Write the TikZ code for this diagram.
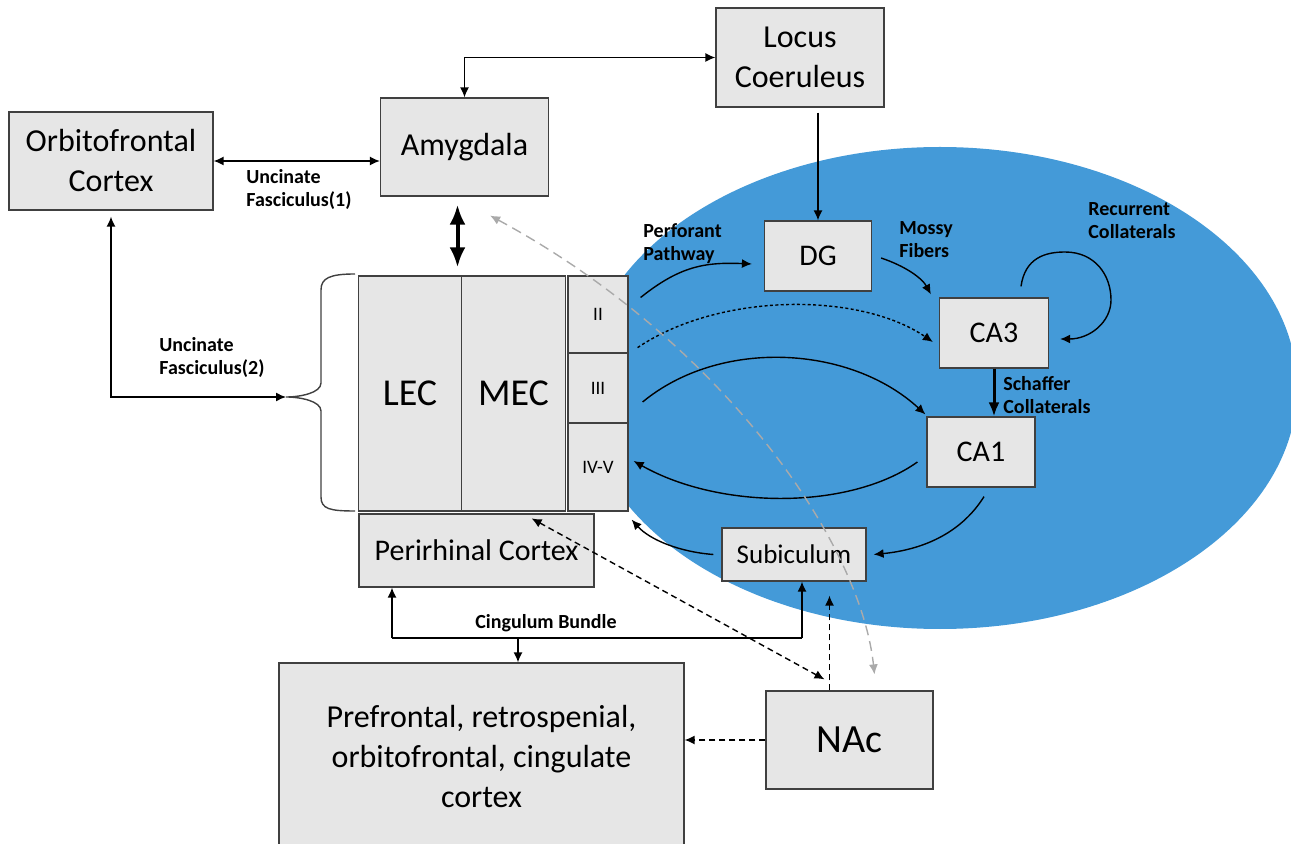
\documentclass[tikz,border=0pt]{standalone}
\usepackage{fontspec}
\setmainfont{Carlito}
\usetikzlibrary{arrows.meta,calc}

\definecolor{hippo_blue}{RGB}{68,154,216}
\definecolor{box_gray}{RGB}{230,230,230}
\definecolor{edge_gray}{RGB}{64,64,64}
\definecolor{path_gray}{RGB}{170,170,170}

\begin{document}
\begin{tikzpicture}[x=0.5pt,y=-0.5pt,
    >={Latex[length=5pt,width=4.5pt]},
    block_box/.style ={rectangle, draw=edge_gray, line width=0.6pt, fill=box_gray,
      align=center, inner sep=2pt, font=\fontsize{16pt}{20pt}\selectfont},
    block_hippo/.style ={block_box, minimum width=54pt, minimum height=35pt,
      font=\fontsize{15pt}{18pt}\selectfont},
    block_ec/.style ={block_box, minimum height=117.5pt,
      font=\fontsize{19pt}{23pt}\selectfont},
    block_layer/.style ={block_box, minimum width=30pt,
      font=\fontsize{9.5pt}{11pt}\selectfont},
    label_bold/.style ={inner sep=0pt, align=left, anchor=west,
      font=\bfseries\fontsize{10pt}{11.5pt}\selectfont},
    line/.style ={draw, line width=0.7pt, ->},
    big_line/.style ={draw, line width=2pt,
      {Latex[length=10pt,width=8pt]}-{Latex[length=10pt,width=8pt]}},
    dash_line/.style ={line, dash pattern=on 3pt off 2pt},
    dot_line/.style ={line, dash pattern=on 1.5pt off 1.2pt},
    gray_line/.style ={line, <->, draw=path_gray, dash pattern=on 5pt off 3pt}]
    \clip (0,0) rectangle (1291,844);
    % hippocampal region
    \fill [hippo_blue] (940,388) ellipse [x radius=178.5pt, y radius=120.5pt];
    % boxes
    \node [block_box, minimum width=102pt, minimum height=49pt] (orbito) at (111,161) {Orbitofrontal\\Cortex};
    \node [block_box, minimum width=84pt, minimum height=49pt] (amyg) at (464.5,147) {Amygdala};
    \node [block_box, minimum width=84pt, minimum height=49.5pt] (locus) at (800,57.5) {Locus\\Coeruleus};
    \node [block_hippo, minimum width=53.5pt] (dg) at (818,256) {DG};
    \node [block_hippo, minimum width=54.5pt] (ca3) at (994,333) {CA3};
    \node [block_hippo] (ca1) at (981,452) {CA1};
    \node [block_box, minimum width=72pt, minimum height=26.5pt,
      font=\fontsize{13.5pt}{16pt}\selectfont] (sub) at (794,554.5) {Subiculum};
    \node [block_ec, minimum width=51.25pt] (lec) at (410,393.5) {LEC};
    \node [block_ec, minimum width=51.75pt] (mec) at (513.5,393.5) {MEC};
    \node [block_layer, minimum height=38.5pt] (layer2) at (598,314.5) {II};
    \node [block_layer, minimum height=35pt] (layer3) at (598,388) {III};
    \node [block_layer, minimum height=44pt] (layer45) at (598,467) {IV-V};
    \node [block_box, minimum width=117.5pt, minimum height=36.5pt,
      font=\fontsize{15pt}{18pt}\selectfont] (peri) at (476.5,550.5) {Perirhinal Cortex};
    \node [block_box, minimum width=202.5pt, minimum height=94pt] (pref) at (481.5,757) {Prefrontal, retrospenial,\\orbitofrontal, cingulate\\cortex};
    \node [block_box, minimum width=83.5pt, minimum height=49pt,
      font=\fontsize{20pt}{24pt}\selectfont] (nac) at (849.5,740) {NAc};
    % pathway labels
    \node [label_bold] (uf_one) at (246,190) {Uncinate\\Fasciculus(1)};
    \node [label_bold] (uf_two) at (159,357.5) {Uncinate\\Fasciculus(2)};
    \node [label_bold] (perforant) at (643,244) {Perforant\\Pathway};
    \node [label_bold] (mossy) at (899,240) {Mossy\\Fibers};
    \node [label_bold] (recurrent) at (1088,221) {Recurrent\\Collaterals};
    \node [label_bold] (schaffer) at (1003,395) {Schaffer\\Collaterals};
    \node [label_bold, anchor=center] (cingulum) at (546,623) {Cingulum Bundle};
    % brace round the entorhinal cortex
    \coordinate (brace_tip) at (286,397);
    \draw [line width=0.7pt, edge_gray] (355,274) .. controls (330,274) and (321,278) .. (321,290)
      -- (321,383) .. controls (321,393) and (300,397) .. (brace_tip)
      .. controls (300,397) and (321,401) .. (321,411)
      -- (321,497) .. controls (321,509) and (330,511) .. (355,511);
    \coordinate (cing_left) at (392,638);
    \coordinate (cing_right) at (802,638);
    \coordinate (cing_mid) at (518,638);
    \coordinate (nac_up) at ($(nac.north)+(-20,0)$);
    % connecting nodes with paths
    \begin{scope}[every path/.style=line]
      \path [<->] (orbito.east) -- (orbito.east -| amyg.west);
      \path [<->] (amyg.north) |- (locus.west);
      \path [shorten <=2.5pt] (locus.south -| dg.north) -- (dg.north);
      \path [big_line, shorten <=4pt, shorten >=4pt] ($(amyg.south)+(-7,0)$) -- ($(amyg.south |- mec.north)+(-7,0)$);
      \path [<->, shorten <=3pt] (orbito.south) |- (brace_tip);
      \path ($(layer2.east)+(12,-17)$) .. controls (680,266) and (705,262) .. ($(dg.west)+(-12,8)$);
      \path ($(dg.east)+(9,2)$) .. controls (905,266) and (922,278) .. ($(ca3.north west)+(-8,-3)$);
      \path ($(ca3.north)+(27,-11)$) .. controls (1025,258) and (1045,252) .. (1065,252)
        .. controls (1095,252) and (1111,275) .. (1111,300)
        .. controls (1111,322) and (1090,339) .. ($(ca3.east)+(11,6)$);
      \path [dot_line] ($(layer2.south east)+(9,-6)$) .. controls (720,292) and (860,292) .. ($(ca3.west)+(-6,9)$);
      \path ($(layer3.east)+(14,14)$) .. controls (720,338) and (850,345) .. ($(ca1.north west)+(-1,-2)$);
      \path [big_line, line width=1.5pt, -{Latex[length=7pt,width=5.5pt]}] (ca3.south -| 994,0) -- (ca1.north -| 994,0);
      \path ($(ca1.west)+(-9,10)$) .. controls (850,510) and (720,510) .. ($(layer45.east)+(5,-6)$);
      \path ($(ca1.south)+(3,9)$) .. controls (960,535) and (920,550) .. ($(sub.east)+(7,0)$);
      \path ($(sub.west)+(-8,0)$) .. controls (680,552) and (650,540) .. ($(layer45.south east)+(3,8)$);
      \path [-] (cing_left) -- (cing_right);
      \path (cing_left) -- (cing_left |- peri.south);
      \path (cing_right) -- (cing_right |- sub.south);
      \path (cing_mid) -- (cing_mid |- pref.north);
      \path [dash_line, <->] ($(peri.north east)+(-63,5)$) -- ($(nac.north)+(-25,-11)$);
      \path [dash_line, shorten >=7pt] (nac_up) -- (nac_up |- sub.south);
      \path [dash_line] (nac.west) -- (nac.west -| pref.east);
      \path [gray_line] ($(amyg.south east)+(-59,19)$) .. controls (720,340) and (860,540) .. ($(nac.north)+(25,-16)$);
    \end{scope}
\end{tikzpicture}
\end{document}
